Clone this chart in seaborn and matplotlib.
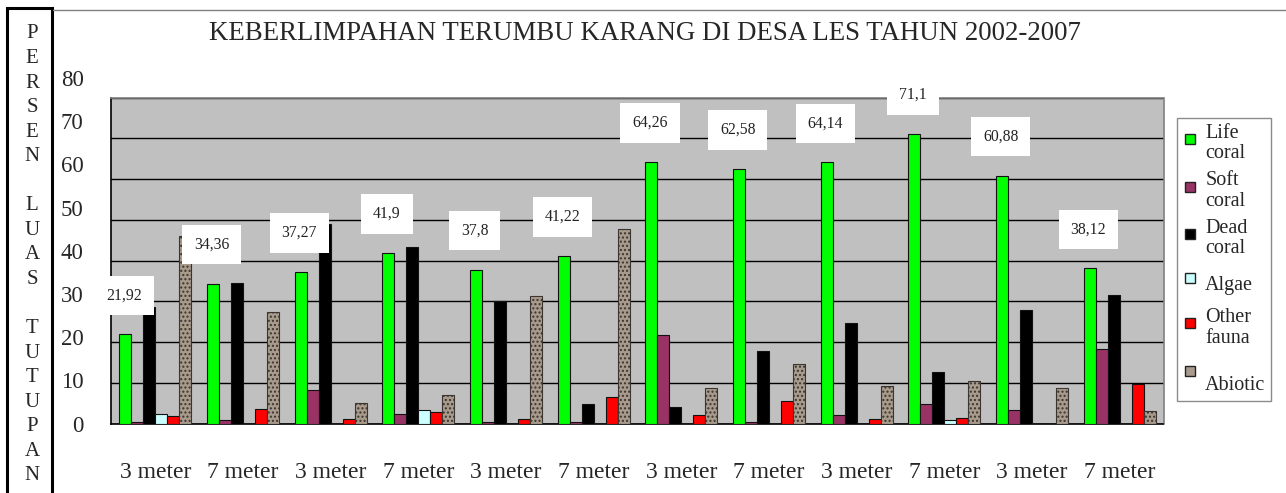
import matplotlib
matplotlib.use('Agg')
import matplotlib.pyplot as plt
from matplotlib.lines import Line2D
from matplotlib.patches import Rectangle
import seaborn as sns
import pandas as pd

# data (percent cover)
tahun = [2002, 2003, 2004, 2005, 2006, 2007]
kedalaman = ['3 meter', '7 meter']
komponen = ['Life coral', 'Soft coral', 'Dead coral', 'Algae', 'Other fauna', 'Abiotic']
legend_labels = ['Life\ncoral', 'Soft\ncoral', 'Dead\ncoral', 'Algae', 'Other\nfauna', '\nAbiotic']

life_coral = [21.92, 34.36, 37.27, 41.9, 37.8, 41.22, 64.26, 62.58, 64.14, 71.1, 60.88, 38.12]
soft_coral = [0.3, 0.8, 8.2, 2.4, 0.4, 0.4, 21.8, 0.4, 2.2, 4.8, 3.3, 18.4]
dead_coral = [28.6, 34.6, 49.0, 43.3, 30.0, 4.8, 4.1, 17.7, 24.7, 12.6, 27.8, 31.6]
algae = [2.4, 0, 0, 3.3, 0, 0, 0, 0, 0, 0.8, 0, 0]
other_fauna = [1.8, 3.6, 1.2, 2.8, 1.2, 6.6, 2.0, 5.5, 1.0, 1.4, 0, 9.6]
abiotic = [46.0, 27.3, 5.1, 6.9, 31.2, 47.8, 8.7, 14.5, 9.1, 10.5, 8.6, 3.1]

y_ticks = [0, 10, 20, 30, 40, 50, 60, 70, 80]

WARNA = ['#00FF00', '#993366', '#000000', '#CCFFFF', '#FF0000', '#A99B8C']
SERIF = 'Liberation Serif'

sns.set_style('white')
plt.rcParams['font.family'] = [SERIF, 'DejaVu Serif']

# long table, one row per bar
kelompok = [f'{t} {d}' for t in tahun for d in kedalaman]
nilai = [life_coral, soft_coral, dead_coral, algae, other_fauna, abiotic]
rows = []
for nama, seri in zip(komponen, nilai):
    for k, v in zip(kelompok, seri):
        rows.append({'kelompok': k, 'komponen': nama, 'persen': v})
df = pd.DataFrame(rows)

W, H = 1286, 493
fig = plt.figure(figsize=(W / 100, H / 100), dpi=100)

def fx(px):
    return px / W

def fy(py):
    return 1 - py / H

ax_left, ax_right, ax_top, ax_bot = 111.5, 1163.5, 97.7, 423.5
ax = fig.add_axes([fx(ax_left), fy(ax_bot), fx(ax_right - ax_left), (ax_bot - ax_top) / H])

sns.barplot(data=df, x='kelompok', y='persen', hue='komponen', hue_order=komponen,
            order=kelompok, palette=WARNA, saturation=1, width=0.82, errorbar=None,
            edgecolor='#111111', linewidth=0.8, legend=False, ax=ax, zorder=3)

# mottled look of the abiotic bars
for bar in ax.containers[5]:
    bar.set_hatch('....')
    bar.set_edgecolor('#3a3530')

ax.set_facecolor('#C0C0C0')
ax.set_xlim(-0.5, len(kelompok) - 0.5)
ax.set_ylim(0, 80)
ax.set_yticks(y_ticks)
ax.set_yticklabels([])
ax.tick_params(axis='y', length=7, width=1, color='black', direction='out')
ax.yaxis.grid(True, color='black', linewidth=1)
ax.set_axisbelow(True)
ax.set_xlabel('')
ax.set_ylabel('')

# category labels in the middle, separators on the group edges
ax.set_xticks(range(len(kelompok)))
ax.set_xticklabels([d for t in tahun for d in kedalaman], fontsize=17)
ax.tick_params(axis='x', which='major', length=0, pad=28)
ax.set_xticks([i - 0.5 for i in range(len(kelompok) + 1)], minor=True)
ax.tick_params(axis='x', which='minor', length=28, width=1.1, color='#555555', direction='out')

for side in ['left', 'bottom']:
    ax.spines[side].set_color('black')
    ax.spines[side].set_linewidth(1.2)
for side in ['top', 'right']:
    ax.spines[side].set_color('#808080')
    ax.spines[side].set_linewidth(1.2)

# value labels for life coral
for bar, v in zip(ax.containers[0], life_coral):
    ax.annotate(str(v).replace('.', ','), (bar.get_x() + bar.get_width() / 2, bar.get_height()),
                xytext=(-1, 28), textcoords='offset points', ha='center', va='center',
                fontsize=11.3, color='#222222', zorder=10, annotation_clip=False,
                bbox=dict(boxstyle='square,pad=0.75', fc='white', ec='none'))

# the y tick labels sit on their own, slightly wider scale in the original
ax2 = fig.add_axes([fx(ax_left), fy(ax_bot), 0.001, (ax_bot - 78) / H])
ax2.set_ylim(0, 80)
ax2.set_yticks(y_ticks)
ax2.set_yticklabels([str(t) for t in y_ticks], fontsize=16.5)
ax2.tick_params(axis='y', length=0, pad=20)
ax2.set_xticks([])
ax2.patch.set_visible(False)
for s in ax2.spines.values():
    s.set_visible(False)

# legend
handles = [Line2D([], [], marker='s', linestyle='', markersize=6.5, markerfacecolor=c,
                  markeredgecolor='#222222', markeredgewidth=1) for c in WARNA]
leg = fig.legend(handles, legend_labels, loc='upper left', bbox_to_anchor=(fx(1177), fy(118)),
                 fontsize=14.5, frameon=True, fancybox=False, edgecolor='#8C8C8C',
                 framealpha=1, labelspacing=0.4, handlelength=0.7, handleheight=2.2,
                 handletextpad=0.4, borderpad=0.3, borderaxespad=0)
for t in leg.get_texts():
    t.set_linespacing(1.1)

# title
fig.text(fx(645), fy(33), 'KEBERLIMPAHAN TERUMBU KARANG DI DESA LES TAHUN 2002-2007',
         ha='center', va='center', fontsize=19.4)

# vertical axis title in its own box
fig.patches.append(Rectangle((fx(7), fy(505)), fx(52 - 7), (505 - 8) / H,
                             transform=fig.transFigure, fill=False, edgecolor='black',
                             linewidth=2.2))
fig.lines.append(Line2D([fx(53), 1], [fy(9.5), fy(9.5)], transform=fig.transFigure,
                        color='#808080', linewidth=1))
huruf = list('PERSEN') + [''] + list('LUAS') + [''] + list('TUTUPAN')
for i, h in enumerate(huruf):
    fig.text(fx(32), fy(34 + 24.55 * i), h, ha='center', va='center', fontsize=15)

fig.savefig('out.png', dpi=100)
